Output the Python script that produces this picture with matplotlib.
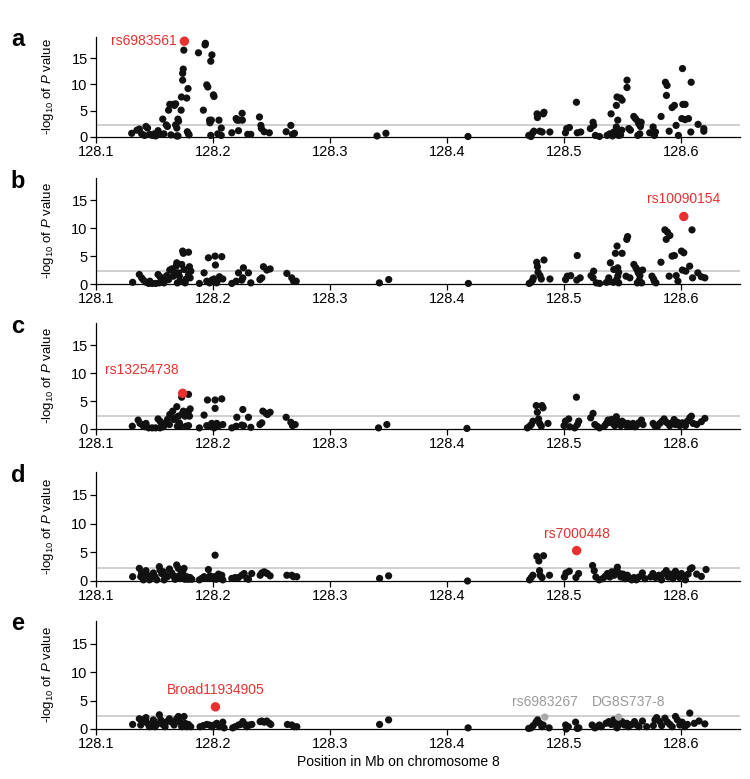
import matplotlib
matplotlib.use('Agg')
import matplotlib.pyplot as plt

plt.rcParams['font.family'] = ['Liberation Sans', 'DejaVu Sans']
plt.rcParams['mathtext.fontset'] = 'custom'
plt.rcParams['mathtext.rm'] = 'Liberation Sans'
plt.rcParams['mathtext.it'] = 'Liberation Sans:italic'

# panel a
pos_a = [128.1305, 128.135, 128.137, 128.139, 128.1415, 128.1427, 128.144, 128.146, 128.148, 128.150, 128.151,
         128.153, 128.155, 128.157, 128.158, 128.160, 128.161, 128.162, 128.163, 128.164, 128.166, 128.167, 128.168,
         128.168, 128.169, 128.170, 128.1705, 128.169, 128.170, 128.1727, 128.173, 128.174, 128.1745, 128.174,
         128.175, 128.1775, 128.1786, 128.178, 128.179, 128.1795, 128.1875, 128.1917, 128.1934, 128.1932, 128.1946,
         128.1955, 128.197, 128.1973, 128.198, 128.199, 128.2003, 128.2008, 128.1985, 128.205, 128.198, 128.204,
         128.207, 128.207, 128.216, 128.2197, 128.2205, 128.2222, 128.2248, 128.225, 128.2217, 128.2296, 128.2322,
         128.2396, 128.2408, 128.2413, 128.2436, 128.248, 128.2624, 128.2664, 128.2678, 128.2695, 128.340, 128.3476,
         128.4177, 128.4696, 128.4715, 128.473, 128.474, 128.4767, 128.477, 128.4826, 128.482, 128.479, 128.481,
         128.4876, 128.5009, 128.502, 128.5043, 128.5103, 128.511, 128.514, 128.5222, 128.5245, 128.525, 128.5265,
         128.530, 128.5365, 128.5387, 128.5399, 128.5422, 128.5444, 128.5444, 128.545, 128.5456, 128.5464, 128.5464,
         128.5479, 128.5493, 128.5535, 128.5535, 128.555, 128.5564, 128.541, 128.543, 128.546, 128.548, 128.549,
         128.5593, 128.5607, 128.5627, 128.5636, 128.565, 128.5644, 128.5656, 128.5627, 128.5729, 128.5758,
         128.5769, 128.5778, 128.5826, 128.5863, 128.5877, 128.5872, 128.5895, 128.592, 128.594, 128.5954,
         128.5974, 128.6009, 128.6012, 128.6031, 128.6003, 128.6031, 128.606, 128.6083, 128.608, 128.6142,
         128.6191, 128.6191]
logp_a = [0.7, 1.3, 1.5, 0.6, 0.3, 2.0, 1.7, 0.5, 0.3, 0.6, 0.2,
          1.2, 0.5, 3.4, 0.6, 2.3, 2.0, 5.1, 6.2, 0.4, 6.2, 6.0, 6.3,
          2.3, 1.7, 3.4, 3.0, 0.2, 0.2, 5.1, 7.6, 12.1, 12.9, 10.8,
          16.5, 7.4, 9.2, 1.0, 0.6, 0.4, 16.0, 5.1, 17.8, 17.5, 9.9,
          9.5, 3.2, 2.7, 14.4, 15.6, 8.0, 7.7, 3.2, 3.2, 0.3, 0.6,
          0.3, 1.7, 0.8, 3.5, 3.2, 3.2, 4.5, 3.2, 1.2, 0.5, 0.5,
          3.8, 2.2, 1.6, 1.0, 0.8, 1.0, 2.2, 0.5, 0.7, 0.2, 0.7,
          0.1, 0.3, 0.1, 0.8, 1.1, 4.4, 3.7, 4.7, 4.4, 1.1, 0.95,
          0.95, 0.8, 1.6, 1.8, 6.6, 0.8, 0.95, 1.6, 2.8, 2.2, 0.3,
          0.1, 0.3, 0.6, 4.4, 0.95, 6.0, 1.9, 7.6, 3.2, 0.3, 0.6,
          7.4, 7.0, 10.8, 9.4, 1.6, 1.3, 0.2, 0.5, 1.0, 0.4, 1.3,
          3.9, 3.5, 3.0, 2.5, 2.0, 0.6, 2.8, 0.3, 0.8, 1.9,
          0.3, 0.95, 3.9, 10.4, 9.8, 7.9, 1.1, 5.6, 6.0, 2.2,
          0.3, 13.0, 6.2, 6.2, 3.5, 3.3, 3.5, 10.4, 0.95, 2.4,
          1.6, 1.1]

# panel b
pos_b = [128.1313, 128.137, 128.139, 128.1405, 128.143, 128.145, 128.148, 128.151, 128.146,
         128.153, 128.1547, 128.156, 128.1576, 128.159, 128.1604, 128.162, 128.154, 128.158,
         128.163, 128.1647, 128.166, 128.1667, 128.169, 128.1684, 128.1704, 128.1712, 128.1718, 128.1695,
         128.174, 128.1746, 128.179, 128.1732, 128.1752, 128.177, 128.179, 128.1798, 128.181, 128.1804, 128.1761,
         128.1883, 128.1923, 128.1946, 128.196, 128.1989, 128.2017, 128.202, 128.2009, 128.2046, 128.2054,
         128.2074, 128.2083, 128.203, 128.197, 128.216, 128.2197, 128.2217, 128.2245, 128.2259, 128.2254,
         128.2302, 128.2322, 128.240, 128.2416, 128.243, 128.2459, 128.2487, 128.263, 128.2672, 128.2687,
         128.271, 128.342, 128.35,
         128.418, 128.470, 128.4715, 128.473, 128.4735, 128.4764, 128.477, 128.4775, 128.4826, 128.4792,
         128.4803, 128.4877, 128.501, 128.5025, 128.5054, 128.511, 128.5106, 128.5135, 128.5228, 128.525,
         128.5245, 128.5273, 128.5301, 128.536, 128.5393, 128.5379, 128.5422, 128.5436, 128.545, 128.5456,
         128.5464, 128.5419, 128.5447, 128.5456, 128.5464, 128.5493, 128.5533, 128.554, 128.5527, 128.556,
         128.5594, 128.5611, 128.5623, 128.5631, 128.5645, 128.564, 128.5668, 128.566, 128.5623, 128.5748,
         128.5762, 128.5768, 128.5782, 128.5825, 128.5859, 128.588, 128.587, 128.5901, 128.5895, 128.592,
         128.594, 128.5955, 128.597, 128.600, 128.602, 128.6008, 128.6037, 128.607, 128.6095, 128.609,
         128.614, 128.617, 128.620]
logp_b = [0.3, 1.7, 1.1, 0.7, 0.3, 0.1, 0.1, 0.1, 0.5,
          1.7, 1.3, 0.8, 0.5, 1.1, 1.5, 0.8, 0.2, 0.2,
          2.5, 2.7, 1.4, 2.1, 3.8, 3.2, 2.0, 1.4, 0.5, 0.2,
          5.9, 5.5, 5.7, 3.5, 2.6, 0.9, 1.7, 3.1, 2.3, 1.1, 0.2,
          0.1, 2.0, 0.5, 4.7, 0.7, 5.0, 3.4, 0.9, 0.8, 1.3,
          4.9, 0.9, 0.2, 0.2, 0.1, 0.5, 2.0, 0.7, 2.9, 1.1,
          2.0, 0.2, 0.8, 1.1, 3.1, 2.5, 2.7, 1.9, 1.1, 0.5,
          0.5, 0.2, 0.8,
          0.1, 0.1, 0.3, 0.7, 1.1, 3.9, 3.1, 2.1, 4.3, 1.5,
          0.9, 0.9, 0.8, 1.4, 1.5, 5.1, 0.7, 1.1, 1.5, 2.3,
          1.1, 0.2, 0.1, 0.3, 3.8, 1.1, 2.6, 5.5, 6.8, 1.4,
          0.2, 0.3, 0.8, 2.9, 2.1, 5.5, 8.0, 8.5, 1.4, 1.1,
          3.5, 2.9, 2.5, 2.0, 1.5, 0.7, 2.5, 0.2, 0.2, 1.4,
          0.9, 0.5, 0.2, 3.9, 9.7, 9.3, 8.0, 8.7, 1.4, 5.0,
          5.1, 1.5, 0.5, 5.9, 5.6, 2.5, 2.3, 3.2, 1.1, 9.7,
          2.0, 1.3, 1.1]

# panel c
pos_c = [128.131, 128.136, 128.1376, 128.140, 128.142, 128.145, 128.148, 128.151, 128.1427,
         128.153, 128.1547, 128.156, 128.1576, 128.159, 128.161, 128.1627, 128.1547,
         128.163, 128.1655, 128.1667, 128.169, 128.1675, 128.1704, 128.1712, 128.1724, 128.1732, 128.1746,
         128.176, 128.1695, 128.179, 128.1804, 128.1798, 128.179, 128.177, 128.1732, 128.179,
         128.1883, 128.1923, 128.1952, 128.2017, 128.2074, 128.2017, 128.1946, 128.1969, 128.1988, 128.2009,
         128.2031, 128.2046, 128.2083, 128.216, 128.2197, 128.2203, 128.2245, 128.2254, 128.226, 128.2302,
         128.2322, 128.240, 128.2416, 128.2425, 128.2453, 128.2487, 128.2465, 128.2624, 128.2664, 128.2678,
         128.2701, 128.3413, 128.3484,
         128.4168, 128.4684, 128.4704, 128.4718, 128.4732, 128.4769, 128.476, 128.4809, 128.4818, 128.478,
         128.4789, 128.4803, 128.486, 128.4997, 128.5009, 128.5037, 128.5046, 128.5103, 128.5111, 128.5123,
         128.5088, 128.5225, 128.5245, 128.526, 128.528, 128.530,
         128.5345, 128.5359, 128.5373, 128.5387, 128.5402, 128.5416, 128.543, 128.5444, 128.5453, 128.5464,
         128.5481, 128.5493, 128.551, 128.553, 128.5544, 128.5567, 128.5587, 128.5601, 128.5615, 128.5635,
         128.5658, 128.5672, 128.5758, 128.5772, 128.5795, 128.5815, 128.5835, 128.5852, 128.5872, 128.5886,
         128.590, 128.592, 128.5937, 128.5949, 128.5966, 128.5986, 128.6006, 128.6023, 128.6034, 128.6051,
         128.6071, 128.6085, 128.610, 128.613, 128.617, 128.620]
logp_c = [0.5, 1.6, 1.0, 0.6, 0.4, 0.2, 0.2, 0.2, 1.0,
          1.8, 1.4, 0.6, 0.4, 1.0, 1.7, 0.8, 0.2,
          2.6, 3.2, 1.7, 4.0, 2.0, 2.3, 1.1, 0.5, 2.6, 3.2,
          2.3, 0.5, 3.2, 3.6, 2.3, 0.6, 0.5, 5.7, 6.2,
          0.2, 2.5, 5.2, 5.2, 5.4, 3.7, 0.6, 0.5, 1.0, 0.2,
          1.0, 0.5, 0.8, 0.2, 0.5, 2.1, 0.7, 3.5, 0.6, 2.1,
          0.3, 0.8, 1.1, 3.2, 2.8, 3.0, 2.6, 2.1, 1.2, 0.6,
          0.8, 0.2, 0.8,
          0.1, 0.2, 0.5, 0.8, 1.4, 3.0, 4.2, 4.2, 3.8, 1.8,
          1.0, 0.5, 1.0, 0.6, 1.4, 1.8, 0.4, 5.7, 0.8, 1.4,
          0.2, 2.0, 2.8, 0.8, 0.5, 0.2,
          0.6, 1.0, 1.6, 1.2, 1.7, 1.0, 0.6, 2.2, 1.4, 1.0,
          0.6, 1.4, 1.1, 0.6, 1.0, 0.5, 1.0, 0.4, 0.6, 1.1,
          1.6, 0.8, 1.0, 0.6, 0.5, 1.0, 1.4, 1.8, 1.2, 1.0,
          0.6, 1.1, 1.7, 0.8, 1.2, 0.6, 1.1, 1.0, 0.6, 1.4,
          2.0, 2.3, 1.0, 0.8, 1.3, 1.9]

# panel d
pos_d = [128.1313, 128.137, 128.1382, 128.139, 128.1405, 128.1427, 128.1439, 128.1456, 128.1476, 128.149,
         128.1504, 128.1519, 128.1541, 128.1547, 128.1561, 128.1575, 128.1581, 128.1598, 128.161, 128.1627,
         128.1647, 128.1661, 128.1675, 128.1689, 128.1704, 128.1695, 128.1712, 128.1724, 128.1741, 128.1752,
         128.1761, 128.1775, 128.1789, 128.1803, 128.1818, 128.1883, 128.1903, 128.1923, 128.196, 128.1946,
         128.1974, 128.1989, 128.2017, 128.2009, 128.2026, 128.2046, 128.206, 128.2074, 128.2083, 128.216,
         128.2188, 128.2217, 128.2245, 128.2265, 128.2288, 128.2302, 128.233, 128.2402, 128.2416, 128.2436,
         128.2453, 128.2464, 128.2487, 128.263, 128.2672, 128.2687, 128.2715, 128.3422, 128.3499,
         128.4173, 128.4703, 128.4717, 128.4731, 128.4765, 128.4782, 128.4822, 128.4788, 128.4793, 128.481,
         128.4873, 128.500, 128.5014, 128.5042, 128.5099, 128.5122, 128.5241, 128.5255, 128.5269, 128.5297,
         128.5326, 128.5348, 128.5368, 128.5388, 128.5405, 128.5425, 128.5439, 128.5453, 128.5467, 128.5482,
         128.5501, 128.5518, 128.5538, 128.5552, 128.5575, 128.5595, 128.5615, 128.5637, 128.5666, 128.5688,
         128.5737, 128.5756, 128.5779, 128.5807, 128.583, 128.585, 128.587, 128.5887, 128.5907, 128.5926,
         128.5949, 128.5963, 128.5983, 128.600, 128.602, 128.6034, 128.6057, 128.6076, 128.609, 128.613,
         128.617, 128.621]
logp_d = [0.75, 2.2, 0.75, 1.4, 0.2, 1.8, 1.0, 0.2, 0.75, 1.4,
          0.75, 0.2, 2.5, 1.9, 1.3, 1.6, 0.2, 1.0, 0.75, 2.1,
          1.4, 0.9, 0.3, 2.8, 2.2, 0.75, 0.45, 1.2, 1.6, 2.2,
          0.3, 0.75, 0.3, 0.6, 0.3, 0.2, 0.45, 0.75, 2.0, 0.45,
          0.9, 0.45, 4.5, 0.75, 0.3, 1.2, 0.6, 1.0, 0.2, 0.45,
          0.6, 0.6, 1.0, 1.3, 0.45, 0.3, 1.3, 1.0, 1.4, 1.6,
          1.4, 1.3, 0.9, 1.0, 1.0, 0.75, 0.75, 0.45, 0.9,
          0.0, 0.2, 0.6, 1.0, 4.3, 3.5, 4.4, 1.8, 1.0, 0.6,
          1.0, 0.7, 1.4, 1.7, 0.6, 1.3, 2.7, 1.8, 0.7, 0.2,
          0.4, 0.8, 1.3, 0.7, 1.6, 1.0, 1.7, 2.4, 1.4, 0.7,
          1.2, 0.4, 1.0, 0.6, 0.2, 0.6, 0.2, 0.7, 1.4, 0.4,
          0.7, 1.3, 0.6, 1.0, 0.2, 1.3, 1.8, 0.7, 1.2, 0.4,
          1.7, 1.0, 0.6, 1.3, 0.7, 0.2, 1.2, 2.1, 2.3, 1.2,
          0.8, 2.0]

# panel e
pos_e = [128.1313, 128.137, 128.1382, 128.1399, 128.1419, 128.1427, 128.1439, 128.1456, 128.1476, 128.149,
         128.1504, 128.1519, 128.1541, 128.1553, 128.157, 128.159, 128.1604, 128.1627, 128.1647, 128.1667,
         128.1689, 128.1704, 128.1718, 128.1732, 128.1752, 128.1761, 128.1775, 128.1789, 128.1809, 128.1889,
         128.1917, 128.1946, 128.1969, 128.1989, 128.2009, 128.2031, 128.2054, 128.2083, 128.2094, 128.2168,
         128.2188, 128.2217, 128.2236, 128.2254, 128.2274, 128.2288, 128.2311, 128.2331, 128.2402, 128.2416,
         128.2436, 128.2459, 128.2481, 128.2493, 128.2635, 128.2672, 128.2692, 128.2715, 128.3422, 128.3499,
         128.4178, 128.4695, 128.4715, 128.4734, 128.4757, 128.4771, 128.4791, 128.4808, 128.4819, 128.487,
         128.5011, 128.5017, 128.5034, 128.5096, 128.511, 128.5124, 128.5237, 128.526, 128.528, 128.5299,
         128.5316, 128.5356, 128.5379, 128.5401, 128.5421, 128.5435, 128.5449, 128.5469, 128.5492, 128.5514,
         128.5534, 128.5548, 128.5576, 128.5599, 128.5619, 128.5638, 128.5667, 128.5703, 128.576, 128.5774,
         128.5788, 128.5816, 128.5831, 128.5859, 128.5881, 128.5901, 128.5921, 128.5949, 128.5966, 128.5986,
         128.6006, 128.6028, 128.6051, 128.6071, 128.611, 128.615, 128.620]
logp_e = [0.8, 1.8, 0.7, 1.3, 1.8, 2.0, 1.0, 0.4, 0.7, 1.6,
          0.4, 0.8, 2.5, 1.6, 0.8, 0.4, 1.3, 1.8, 1.2, 0.7,
          1.8, 2.2, 1.2, 0.4, 2.2, 1.0, 0.4, 0.8, 0.4, 0.4,
          0.6, 0.8, 0.7, 0.4, 0.7, 1.0, 0.4, 1.2, 0.2, 0.2,
          0.4, 0.7, 0.8, 1.3, 0.8, 0.4, 0.7, 0.8, 1.3, 1.4,
          1.2, 1.4, 1.0, 0.8, 0.8, 0.7, 0.4, 0.4, 0.8, 1.6,
          0.2, 0.1, 0.2, 0.6, 1.2, 1.6, 1.0, 0.4, 0.7, 0.2,
          0.7, 0.0, 0.4, 1.2, 0.1, 0.2, 0.7, 0.2, 0.4, 0.7,
          0.4, 1.0, 1.3, 0.8, 1.6, 1.2, 0.2, 0.8, 1.3, 0.7,
          1.0, 0.4, 0.8, 1.3, 0.7, 0.4, 1.4, 0.4, 0.6, 1.6,
          2.0, 1.3, 0.6, 1.9, 1.2, 0.8, 0.4, 2.2, 1.6, 0.7,
          1.2, 0.4, 0.8, 2.8, 1.0, 1.4, 0.9]

# highlighted SNPs (one per panel)
lead_names = ['rs6983561', 'rs10090154', 'rs13254738', 'rs7000448', 'Broad11934905']
lead_pos = [128.1755, 128.602, 128.174, 128.5105, 128.202]
lead_logp = [18.2, 12.1, 6.4, 5.3, 3.9]

# grey SNPs in panel e
grey_names = ['rs6983267', 'DG8S737-8']
grey_pos = [128.4833, 128.5463]
grey_logp = [2.1, 2.1]

panel_pos = [pos_a, pos_b, pos_c, pos_d, pos_e]
panel_logp = [logp_a, logp_b, logp_c, logp_d, logp_e]
letters = ['a', 'b', 'c', 'd', 'e']
threshold = 2.3

W, H = 750, 779
fig = plt.figure(figsize=(W / 100, H / 100), dpi=100)

# pixel boxes (top, bottom) of each panel
boxes = [(37, 137), (178, 284), (323, 429), (472, 581), (621, 729)]
label_offsets = [(-8, 0, 'right', 'center'), (0, 17, 'center', 'center'), (-4, 23, 'right', 'center'),
                 (0, 17, 'center', 'center'), (0, 17, 'center', 'center')]
red = '#e8312f'

for i in range(5):
    top, bot = boxes[i]
    ax = fig.add_axes([96 / W, 1 - bot / H, 644 / W, (bot - top) / H])
    ax.set_xlim(128.1, 128.65)
    ax.set_ylim(0, 19)
    ax.axhline(threshold, color='#cccccc', lw=1.3, zorder=1)
    ax.scatter(panel_pos[i], panel_logp[i], s=27, color='#111111', edgecolors='none', zorder=3, clip_on=False)
    if i == 4:
        ax.scatter(grey_pos, grey_logp, s=28, color='#aaaaaa', edgecolors='none', zorder=4, clip_on=False)
        for name, gx, gy, dx in zip(grey_names, grey_pos, grey_logp, [0, 10]):
            ax.annotate(name, (gx, gy), xytext=(dx, 15), textcoords='offset pixels',
                        ha='center', va='center', fontsize=10, color='#9a9a9a')
    ax.scatter([lead_pos[i]], [lead_logp[i]], s=46, color=red, edgecolors='none', zorder=5, clip_on=False)
    dx, dy, ha, va = label_offsets[i]
    ax.annotate(lead_names[i], (lead_pos[i], lead_logp[i]), xytext=(dx, dy), textcoords='offset pixels',
                ha=ha, va=va, fontsize=10, color=red)

    for s in ['top', 'right']:
        ax.spines[s].set_visible(False)
    ax.spines['left'].set_linewidth(0.9)
    ax.spines['bottom'].set_linewidth(0.9)
    ax.set_yticks([0, 5, 10, 15])
    ax.set_xticks([128.1, 128.2, 128.3, 128.4, 128.5, 128.6])
    ax.set_xticklabels(['128.1', '128.2', '128.3', '128.4', '128.5', '128.6'])
    ax.tick_params(axis='both', labelsize=10.5, length=4, width=0.9, pad=2)

    fig.text(48 / W, 1 - (top + bot) / 2 / H, '-log$_{10}$ of $P$ value', rotation=90,
             ha='center', va='center', fontsize=9.5)
    fig.text(18 / W, 1 - (top + 3) / H, letters[i], fontsize=17, fontweight='bold',
             ha='center', va='center')

fig.text(398 / W, 1 - 762 / H, 'Position in Mb on chromosome 8', ha='center', va='center', fontsize=10)

fig.savefig('out.png', dpi=100)
